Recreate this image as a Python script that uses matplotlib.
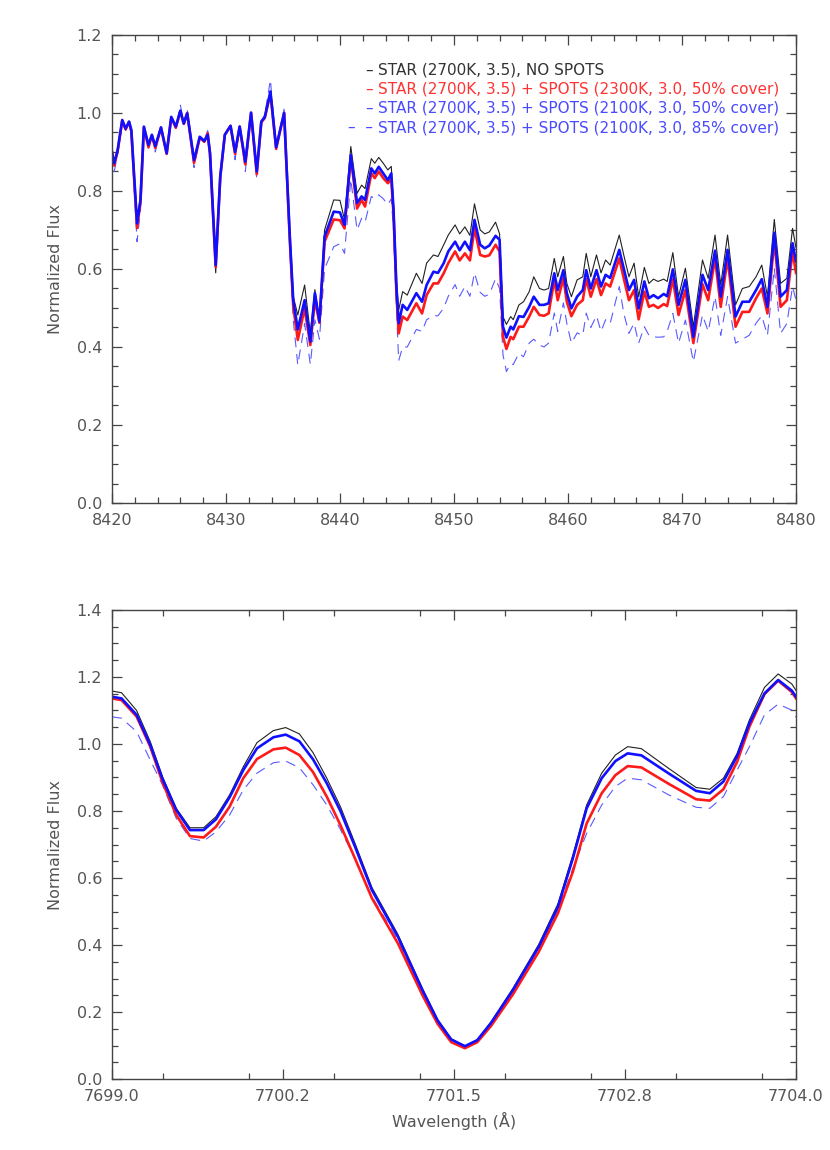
import matplotlib
matplotlib.use("Agg")
import matplotlib.pyplot as plt
from matplotlib.ticker import MultipleLocator, FixedLocator

# --- DADOS: PAINEL SUPERIOR (8420-8480 A) ---
wl_top = [8420.0, 8420.2, 8420.5, 8420.9, 8421.2, 8421.5, 8421.7, 8422.2, 8422.5, 8422.8,
          8423.2, 8423.5, 8423.8, 8424.3, 8424.8, 8425.2, 8425.6, 8426.0, 8426.3, 8426.6,
          8427.2, 8427.7, 8428.1, 8428.4, 8428.6, 8429.1, 8429.5, 8429.9, 8430.4, 8430.8,
          8431.2, 8431.7, 8432.2, 8432.7, 8433.1, 8433.4, 8433.9, 8434.4, 8435.1, 8435.6,
          8435.9, 8436.3, 8436.9, 8437.4, 8437.8, 8438.2, 8438.65, 8439.45, 8440.0, 8440.4,
          8440.95, 8441.5, 8441.9, 8442.2, 8442.75, 8443.05, 8443.4, 8443.8, 8444.2, 8444.5,
          8444.7, 8444.95, 8445.15, 8445.5, 8445.9, 8446.7, 8447.2, 8447.6, 8448.2, 8448.6,
          8449.1, 8449.5, 8450.1, 8450.5, 8450.96, 8451.4, 8451.8, 8452.3, 8452.7, 8453.1,
          8453.65, 8454.0, 8454.3, 8454.6, 8454.97, 8455.2, 8455.7, 8456.1, 8456.6, 8457.0,
          8457.5, 8457.9, 8458.3, 8458.8, 8459.1, 8459.6, 8459.9, 8460.3, 8460.8, 8461.3,
          8461.6, 8462.0, 8462.5, 8462.9, 8463.3, 8463.7, 8464.5, 8464.9, 8465.35, 8465.8,
          8466.2, 8466.7, 8467.1, 8467.5, 8467.9, 8468.4, 8468.7, 8469.2, 8469.7, 8470.3,
          8471.0, 8471.8, 8472.3, 8472.9, 8473.4, 8474.0, 8474.7, 8475.3, 8475.9, 8476.5,
          8477.0, 8477.5, 8478.1, 8478.65, 8479.2, 8479.7, 8480.0]

star_top = [0.905, 0.875, 0.905, 0.982, 0.960, 0.978, 0.956, 0.730, 0.780, 0.965,
            0.918, 0.944, 0.915, 0.963, 0.897, 0.990, 0.962, 1.006, 0.973, 0.999,
            0.879, 0.939, 0.928, 0.944, 0.897, 0.590, 0.837, 0.944, 0.967, 0.900,
            0.965, 0.875, 1.001, 0.850, 0.978, 0.989, 1.055, 0.912, 1.000, 0.690,
            0.530, 0.482, 0.559, 0.435, 0.547, 0.468, 0.700, 0.777, 0.776, 0.726,
            0.914, 0.794, 0.815, 0.806, 0.883, 0.871, 0.886, 0.871, 0.854, 0.863,
            0.760, 0.570, 0.495, 0.542, 0.533, 0.589, 0.563, 0.615, 0.636, 0.632,
            0.662, 0.687, 0.713, 0.690, 0.708, 0.686, 0.767, 0.700, 0.690, 0.695,
            0.720, 0.690, 0.478, 0.458, 0.478, 0.470, 0.508, 0.516, 0.542, 0.580,
            0.550, 0.546, 0.550, 0.627, 0.580, 0.632, 0.563, 0.529, 0.572, 0.580,
            0.640, 0.580, 0.636, 0.590, 0.623, 0.610, 0.687, 0.635, 0.580, 0.615,
            0.529, 0.604, 0.563, 0.574, 0.568, 0.574, 0.568, 0.642, 0.529, 0.602,
            0.452, 0.623, 0.576, 0.687, 0.559, 0.687, 0.508, 0.550, 0.555, 0.580,
            0.610, 0.529, 0.727, 0.563, 0.576, 0.704, 0.655]

spots2300_top = [0.900, 0.865, 0.903, 0.980, 0.958, 0.977, 0.953, 0.705, 0.772, 0.963,
                 0.912, 0.942, 0.910, 0.962, 0.895, 0.988, 0.962, 1.004, 0.972, 1.000,
                 0.872, 0.937, 0.926, 0.948, 0.895, 0.605, 0.837, 0.944, 0.967, 0.895,
                 0.965, 0.868, 1.000, 0.843, 0.976, 0.987, 1.050, 0.908, 1.000, 0.675,
                 0.505, 0.418, 0.499, 0.405, 0.520, 0.462, 0.670, 0.727, 0.725, 0.704,
                 0.888, 0.755, 0.777, 0.760, 0.845, 0.833, 0.850, 0.833, 0.820, 0.830,
                 0.740, 0.540, 0.435, 0.478, 0.469, 0.512, 0.486, 0.533, 0.563, 0.563,
                 0.589, 0.615, 0.645, 0.622, 0.640, 0.622, 0.704, 0.636, 0.632, 0.635,
                 0.662, 0.645, 0.426, 0.395, 0.426, 0.420, 0.452, 0.452, 0.478, 0.503,
                 0.482, 0.480, 0.486, 0.572, 0.520, 0.576, 0.516, 0.479, 0.508, 0.520,
                 0.574, 0.529, 0.574, 0.533, 0.563, 0.555, 0.627, 0.575, 0.520, 0.546,
                 0.471, 0.542, 0.503, 0.508, 0.500, 0.510, 0.505, 0.574, 0.482, 0.546,
                 0.410, 0.561, 0.520, 0.627, 0.503, 0.627, 0.452, 0.490, 0.490, 0.525,
                 0.550, 0.486, 0.674, 0.503, 0.520, 0.645, 0.590]

spots2100_top = [0.900, 0.871, 0.905, 0.982, 0.960, 0.978, 0.956, 0.717, 0.777, 0.965,
                 0.918, 0.944, 0.915, 0.963, 0.897, 0.990, 0.965, 1.006, 0.973, 0.999,
                 0.879, 0.939, 0.928, 0.944, 0.897, 0.610, 0.837, 0.944, 0.967, 0.900,
                 0.965, 0.875, 1.001, 0.850, 0.978, 0.989, 1.055, 0.912, 1.000, 0.683,
                 0.520, 0.445, 0.520, 0.414, 0.538, 0.465, 0.683, 0.747, 0.745, 0.713,
                 0.892, 0.769, 0.786, 0.777, 0.858, 0.845, 0.862, 0.845, 0.828, 0.845,
                 0.751, 0.555, 0.461, 0.508, 0.495, 0.538, 0.516, 0.559, 0.593, 0.590,
                 0.615, 0.645, 0.670, 0.648, 0.670, 0.648, 0.726, 0.662, 0.653, 0.660,
                 0.685, 0.675, 0.452, 0.424, 0.452, 0.445, 0.479, 0.477, 0.503, 0.529,
                 0.508, 0.508, 0.512, 0.589, 0.546, 0.597, 0.538, 0.499, 0.529, 0.546,
                 0.597, 0.550, 0.597, 0.555, 0.585, 0.577, 0.649, 0.600, 0.546, 0.572,
                 0.499, 0.568, 0.525, 0.533, 0.525, 0.536, 0.530, 0.599, 0.508, 0.572,
                 0.426, 0.585, 0.546, 0.647, 0.529, 0.649, 0.478, 0.516, 0.516, 0.546,
                 0.574, 0.503, 0.693, 0.529, 0.546, 0.666, 0.620]

cover85_top = [0.895, 0.850, 0.895, 0.975, 0.955, 0.975, 0.945, 0.670, 0.750, 0.960,
               0.910, 0.945, 0.900, 0.965, 0.895, 0.995, 0.960, 1.020, 0.975, 1.010,
               0.860, 0.940, 0.930, 0.955, 0.900, 0.605, 0.840, 0.945, 0.968, 0.880,
               0.967, 0.850, 1.003, 0.830, 0.980, 0.995, 1.085, 0.910, 1.010, 0.660,
               0.470, 0.354, 0.460, 0.355, 0.470, 0.420, 0.600, 0.657, 0.665, 0.640,
               0.830, 0.700, 0.730, 0.720, 0.786, 0.780, 0.790, 0.780, 0.765, 0.780,
               0.700, 0.500, 0.365, 0.400, 0.400, 0.445, 0.440, 0.470, 0.480, 0.480,
               0.500, 0.530, 0.560, 0.530, 0.555, 0.530, 0.590, 0.540, 0.530, 0.535,
               0.575, 0.550, 0.380, 0.337, 0.358, 0.355, 0.384, 0.375, 0.410, 0.420,
               0.405, 0.400, 0.410, 0.487, 0.440, 0.513, 0.460, 0.410, 0.436, 0.430,
               0.487, 0.450, 0.480, 0.440, 0.470, 0.460, 0.555, 0.486, 0.435, 0.461,
               0.410, 0.452, 0.430, 0.426, 0.425, 0.426, 0.440, 0.486, 0.410, 0.469,
               0.362, 0.482, 0.440, 0.529, 0.430, 0.529, 0.410, 0.420, 0.430, 0.461,
               0.480, 0.430, 0.602, 0.435, 0.460, 0.555, 0.520]

# --- DADOS: PAINEL INFERIOR (linha 7701.5 A) ---
wl_bot = [7699.00, 7699.07, 7699.18, 7699.28, 7699.37, 7699.47, 7699.57, 7699.67, 7699.76, 7699.86,
          7699.96, 7700.06, 7700.18, 7700.27, 7700.37, 7700.47, 7700.57, 7700.67, 7700.78, 7700.90,
          7701.09, 7701.27, 7701.38, 7701.48, 7701.58, 7701.67, 7701.77, 7701.93, 7702.12, 7702.26,
          7702.37, 7702.47, 7702.58, 7702.68, 7702.77, 7702.87, 7703.07, 7703.27, 7703.37, 7703.47,
          7703.57, 7703.66, 7703.77, 7703.87, 7703.97, 7704.00]

star_bot = [1.158, 1.153, 1.100, 1.007, 0.902, 0.808, 0.750, 0.750, 0.783, 0.848,
            0.932, 1.004, 1.040, 1.049, 1.030, 0.974, 0.898, 0.813, 0.700, 0.572,
            0.432, 0.270, 0.178, 0.120, 0.099, 0.117, 0.170, 0.270, 0.402, 0.523,
            0.670, 0.818, 0.913, 0.967, 0.992, 0.986, 0.927, 0.870, 0.865, 0.898,
            0.972, 1.072, 1.169, 1.209, 1.179, 1.160]

spots2300_bot = [1.136, 1.131, 1.082, 0.992, 0.885, 0.788, 0.725, 0.721, 0.753, 0.813,
                 0.898, 0.955, 0.984, 0.989, 0.967, 0.916, 0.843, 0.758, 0.655, 0.540,
                 0.405, 0.250, 0.165, 0.110, 0.092, 0.110, 0.158, 0.252, 0.380, 0.495,
                 0.620, 0.763, 0.853, 0.907, 0.934, 0.930, 0.881, 0.835, 0.831, 0.865,
                 0.947, 1.052, 1.149, 1.189, 1.155, 1.136]

spots2100_bot = [1.141, 1.136, 1.087, 0.997, 0.895, 0.803, 0.743, 0.743, 0.775, 0.841,
                 0.922, 0.987, 1.020, 1.028, 1.008, 0.954, 0.883, 0.800, 0.690, 0.564,
                 0.425, 0.265, 0.175, 0.118, 0.098, 0.116, 0.167, 0.265, 0.395, 0.514,
                 0.660, 0.808, 0.898, 0.949, 0.972, 0.966, 0.912, 0.860, 0.853, 0.888,
                 0.964, 1.062, 1.151, 1.191, 1.159, 1.141]

cover85_bot = [1.081, 1.077, 1.037, 0.952, 0.877, 0.778, 0.718, 0.710, 0.738, 0.788,
               0.863, 0.913, 0.944, 0.949, 0.929, 0.878, 0.818, 0.745, 0.655, 0.545,
               0.415, 0.262, 0.172, 0.115, 0.096, 0.114, 0.165, 0.262, 0.392, 0.505,
               0.630, 0.733, 0.818, 0.873, 0.898, 0.893, 0.848, 0.811, 0.808, 0.843,
               0.922, 0.992, 1.087, 1.119, 1.101, 1.080]

bot_xticks = [7699.0, 7700.25, 7701.5, 7702.75, 7704.0]
bot_xlabels = ["7699.0", "7700.2", "7701.5", "7702.8", "7704.0"]

legend_labels = ["STAR (2700K, 3.5), NO SPOTS",
                 "STAR (2700K, 3.5) + SPOTS (2300K, 3.0, 50% cover)",
                 "STAR (2700K, 3.5) + SPOTS (2100K, 3.0, 50% cover)",
                 "STAR (2700K, 3.5) + SPOTS (2100K, 3.0, 85% cover)"]
legend_samples = ["\u2013", "\u2013", "\u2013", "\u2013  \u2013"]

# --- ESTILO ---
TXT = "#555555"
AXC = "#444444"
C_STAR = "#202020"
C_RED = "#ff1a1a"
C_BLUE = "#1010ff"
C_DASH = "#5a5aff"
legend_colors = ["#333333", "#ff3333", "#4a4aff", "#4a4aff"]

plt.rcParams['font.family'] = ['DejaVu Sans']


def estilo_eixos(ax):
    for s in ax.spines.values():
        s.set_color(AXC)
        s.set_linewidth(1.0)
    ax.tick_params(which='both', direction='in', top=True, right=True,
                   color=AXC, labelcolor=TXT, labelsize=11.5, width=0.9)
    ax.tick_params(which='major', length=7, pad=7)
    ax.tick_params(which='minor', length=4.5)
    ax.set_ylabel("Normalized Flux", color=TXT, fontsize=11.5, labelpad=10)


def desenhar(ax, wl, star, s2300, s2100, c85):
    ax.plot(wl, c85, color=C_DASH, lw=0.8, dashes=(9, 6))
    ax.plot(wl, star, color=C_STAR, lw=0.8)
    ax.plot(wl, s2300, color=C_RED, lw=1.9)
    ax.plot(wl, s2100, color=C_BLUE, lw=1.9)


fig = plt.figure(figsize=(8.3, 11.5), dpi=100)
ax1 = fig.add_axes([0.1349, 0.5626, 0.8241, 0.4070])
ax2 = fig.add_axes([0.1349, 0.0617, 0.8241, 0.4079])

# --- PAINEL SUPERIOR ---
desenhar(ax1, wl_top, star_top, spots2300_top, spots2100_top, cover85_top)
ax1.set_xlim(8420, 8480)
ax1.set_ylim(0.0, 1.2)
ax1.xaxis.set_major_locator(MultipleLocator(10))
ax1.xaxis.set_minor_locator(MultipleLocator(2))
ax1.yaxis.set_major_locator(MultipleLocator(0.2))
ax1.yaxis.set_minor_locator(MultipleLocator(0.05))
ax1.yaxis.set_major_formatter(plt.FormatStrFormatter('%.1f'))
estilo_eixos(ax1)

# legenda em texto (amostras + rótulos)
y_rows = [0.925, 0.884, 0.843, 0.802]
for lab, amostra, cor, yy in zip(legend_labels, legend_samples, legend_colors, y_rows):
    ax1.text(0.381, yy, amostra, transform=ax1.transAxes, ha='right', va='center',
             color=cor, fontsize=11)
    ax1.text(0.389, yy, lab, transform=ax1.transAxes, ha='left', va='center',
             color=cor, fontsize=11)

# --- PAINEL INFERIOR ---
desenhar(ax2, wl_bot, star_bot, spots2300_bot, spots2100_bot, cover85_bot)
ax2.set_xlim(7699.0, 7704.0)
ax2.set_ylim(0.0, 1.4)
ax2.xaxis.set_major_locator(FixedLocator(bot_xticks))
ax2.set_xticklabels(bot_xlabels)
ax2.xaxis.set_minor_locator(MultipleLocator(0.625))
ax2.yaxis.set_major_locator(MultipleLocator(0.2))
ax2.yaxis.set_minor_locator(MultipleLocator(0.05))
ax2.yaxis.set_major_formatter(plt.FormatStrFormatter('%.1f'))
estilo_eixos(ax2)
ax2.set_xlabel("Wavelength (\u00c5)", color=TXT, fontsize=11.5, labelpad=6)

fig.savefig("out.png", dpi=100)
